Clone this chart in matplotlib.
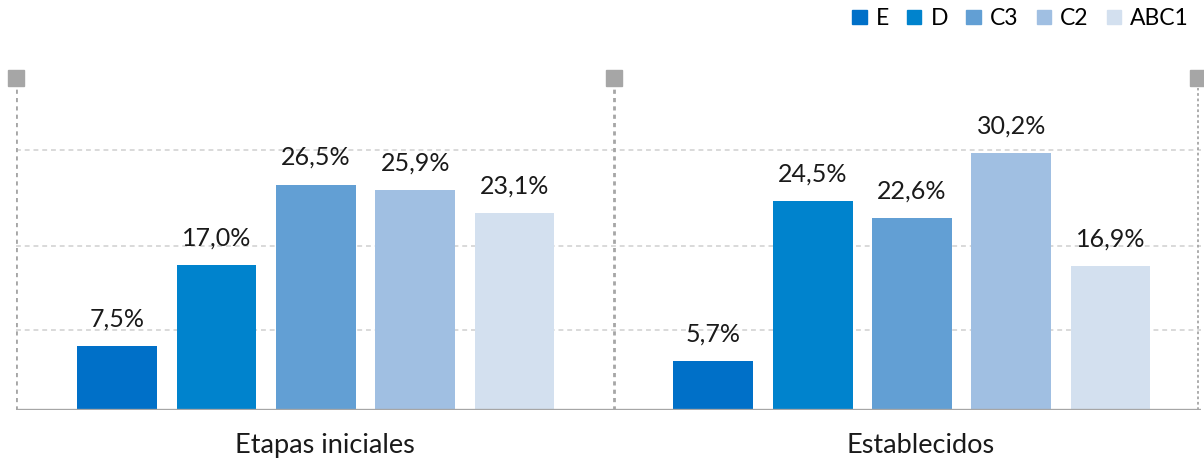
import matplotlib.pyplot as plt
from matplotlib.patches import Patch

groups = ["Etapas iniciales", "Establecidos"]
series = ["E", "D", "C3", "C2", "ABC1"]
values = [
    [7.5, 17.0, 26.5, 25.9, 23.1],   # Etapas iniciales
    [5.7, 24.5, 22.6, 30.2, 16.9],   # Establecidos
]
colors = ["#0070C8", "#0083CD", "#629FD4", "#A0BFE2", "#D3E0EF"]
grid_vals = [9.4, 19.3, 30.6]

plt.rcParams['font.family'] = ['Lato', 'DejaVu Sans']

W, H = 1204, 459
fig = plt.figure(figsize=(W / 100, H / 100), dpi=100)
ax_left, ax_right, ax_bottom, ax_top = 16, 1201, 409.5, 88
ax = fig.add_axes([ax_left / W, (H - ax_bottom) / H,
                   (ax_right - ax_left) / W, (ax_bottom - ax_top) / H])

step = 0.1666
width = 0.134
for g in range(len(groups)):
    for j, v in enumerate(values[g]):
        x = g + (j - 2) * step
        ax.bar(x, v, width=width, color=colors[j], zorder=3)
        ax.annotate(f"{v:.1f}".replace('.', ',') + '%', (x, v),
                    xytext=(0, 14), textcoords='offset points',
                    ha='center', va='baseline', fontsize=18, color='#1a1a1a')
    # category labels sit a little right of the group centre
    ax.annotate(groups[g], (g, 0), xycoords=('data', 'axes fraction'),
                xytext=(6.5, -31.5), textcoords='offset points',
                ha='center', va='baseline', fontsize=19.5, color='#1a1a1a')

ymax = (ax_bottom - ax_top) / 8.49
ax.set_ylim(0, ymax)
ax.set_xlim(-0.503, 1.485)

for gv in grid_vals:
    ax.axhline(gv, color='#D9D9D9', lw=1.4, ls=(0, (2.5, 2)), zorder=1)
for xv, lw in [(-0.503, 2.0), (0.5, 2.0), (1.48, 1.3)]:
    ax.axvline(xv, color='#A6A6A6', lw=lw, ls=(0, (1.5, 1.5)), zorder=2)
    ax.plot([xv], [(ax_bottom - 78) / 8.49], marker='s', markersize=12,
            color='#A6A6A6', clip_on=False, zorder=4)
ax.axhline(0, color='#A6A6A6', lw=2.4, zorder=5)

ax.set_xticks([])
ax.set_yticks([])
for s in ax.spines.values():
    s.set_visible(False)

handles = [Patch(color=c, label=s) for c, s in zip(colors, series)]
fig.legend(handles=handles, loc='upper right', ncol=5, frameon=False,
           bbox_to_anchor=(1189 / W, 1 - 8 / H), fontsize=16.5,
           handlelength=0.62, handleheight=0.62, handletextpad=0.4,
           columnspacing=0.8, borderpad=0, borderaxespad=0)

fig.savefig('out.png', dpi=100)
